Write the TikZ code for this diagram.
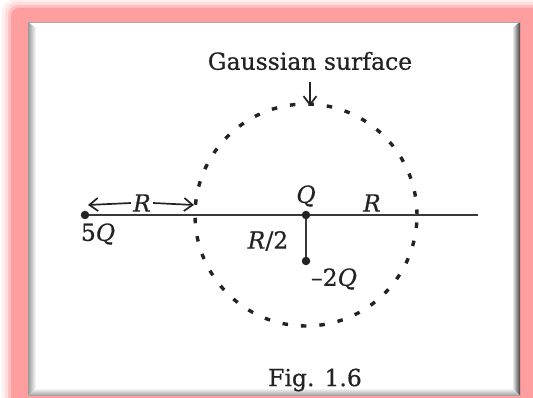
\documentclass[tikz,border=0pt]{standalone}
\usepackage{fontspec}
\setmainfont{DejaVu Serif}
\newfontfamily\lblfont{DejaVu Serif}[FakeBold=0.5]
\usetikzlibrary{arrows.meta}
\definecolor{pinkc}{RGB}{255,158,158}
\definecolor{inkc}{RGB}{35,35,35}
\begin{document}
\begin{tikzpicture}[x=1pt,y=1pt,
  lbl/.style={font=\lblfont\fontsize{23.5}{26}\selectfont, text=inkc, inner sep=1pt},
  dotn/.style={circle, fill=inkc, inner sep=0pt, minimum size=8.5pt},
  axis/.style={draw=inkc!90, line width=1.8pt},
  gsurf/.style={draw=inkc, line width=3.4pt, dash pattern=on 5.5pt off 13pt},
  arr/.style={draw=inkc, line width=1.7pt},
  tip/.style={-{Straight Barb[length=8.5pt,width=13pt,line width=1.7pt]}}
]
\useasboundingbox (0,0) rectangle (533,398);
% pink glow frame
\fill[pinkc!15, rounded corners=14pt] (2,-10) rectangle (545,399);
\fill[pinkc!35, rounded corners=12pt] (5,-10) rectangle (545,396);
\fill[pinkc!65, rounded corners=10pt] (8,-10) rectangle (545,393);
\fill[pinkc, rounded corners=8pt] (11,-10) rectangle (545,390);
% inner white panel with bevel
\fill[white] (28,2) rectangle (520,376);
\shade[left color=gray!80, right color=white] (28,2) -- (28,376) -- (36,370) -- (36,10) -- cycle;
\shade[left color=white, right color=black!75] (512,10) -- (512,370) -- (520,376) -- (520,2) -- cycle;
\shade[top color=white, bottom color=gray!80] (36,10) -- (512,10) -- (520,2) -- (28,2) -- cycle;
\draw[gray!70, line width=0.8pt] (28,376) -- (520,376);
% title
\node[lbl] (gs) at (310,337) {Gaussian surface};
\coordinate (gsa) at (310,316);
\coordinate (gsb) at (310,292);
\draw[arr, tip] (gsa) -- (gsb);
% Gaussian surface
\node[draw=none, circle, minimum size=222pt, inner sep=0pt] (circ) at (306,183) {};
\draw[gsurf] (306,183) circle (111);
% axis
\node[dotn] (c5) at (85,183) {};
\coordinate (lineend) at (478,183);
\draw[axis] (c5) -- (lineend);
% charges
\node[dotn] (cq) at (306,183) {};
\node[dotn] (cm) at (306,137) {};
\draw[axis] (cq) -- (cm);
% labels
\node[lbl] (l5q) at (98,164) {5\textit{Q}};
\node[lbl] (lq) at (306,202) {\textit{Q}};
\node[lbl] (lm2q) at (334,119) {–2\textit{Q}};
\node[lbl] (lr2) at (268,157) {\textit{R}/2};
\node[lbl] (lr) at (372,195) {\textit{R}};
% R arrow
\coordinate (ra) at (88,193);
\coordinate (rb) at (194,193);
\node[lbl, fill=white, inner sep=2pt] (lr1) at (142,195) {\textit{R}};
\draw[arr, tip] (lr1.west) -- (ra);
\draw[arr, tip] (lr1.east) -- (rb);
% caption
\node[lbl] (fig) at (315,18) {Fig. 1.6};
\end{tikzpicture}
\end{document}
